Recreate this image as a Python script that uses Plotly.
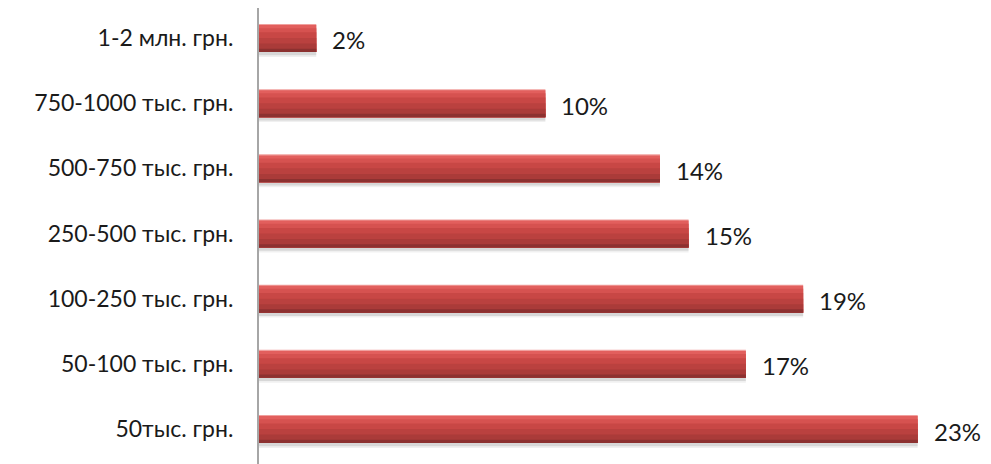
import plotly.graph_objects as go

# Data (bottom to top, as drawn by Plotly's category axis)
categories = [
    "50тыс. грн.",
    "50-100 тыс. грн.",
    "100-250 тыс. грн.",
    "250-500 тыс. грн.",
    "500-750 тыс. грн.",
    "750-1000 тыс. грн.",
    "1-2 млн. грн.",
]
values = [23, 17, 19, 15, 14, 10, 2]
value_labels = ["23%", "17%", "19%", "15%", "14%", "10%", "2%"]

FONT = "Lato, Liberation Sans, sans-serif"
BAR_W = 0.43

fig = go.Figure()

# soft shadow under each bar
for dy, col in [(0.075, "rgba(0,0,0,0.06)"), (0.05, "rgba(0,0,0,0.10)")]:
    fig.add_trace(go.Bar(
        y=categories, x=values, orientation="h",
        offset=-BAR_W / 2 - dy, width=BAR_W,
        marker=dict(color=col, line=dict(width=0)),
        hoverinfo="skip", showlegend=False,
    ))

# vertical shading of the cylinder: (fraction from top where the band starts, colour)
shading = [
    (0.00, "#f0a09e"),
    (0.04, "#e25f5d"),
    (0.15, "#d65250"),
    (0.30, "#c84745"),
    (0.50, "#ba413f"),
    (0.70, "#aa3b39"),
    (0.88, "#8c3130"),
]
for f, col in shading:
    fig.add_trace(go.Bar(
        y=categories, x=values, orientation="h",
        offset=-BAR_W / 2, width=BAR_W * (1 - f),
        marker=dict(color=col, line=dict(width=0)),
        hoverinfo="skip", showlegend=False,
    ))

for cat, v, lab in zip(categories, values, value_labels):
    fig.add_annotation(
        x=v, y=cat, text=lab, xanchor="left", yanchor="middle",
        xshift=14, yshift=-2, showarrow=False,
        font=dict(family=FONT, size=24, color="#1a1a1a"),
    )

fig.update_layout(
    barmode="overlay",
    width=983, height=456,
    margin=dict(l=251, r=16, t=0, b=0),
    paper_bgcolor="white", plot_bgcolor="white",
    font=dict(family=FONT, size=23, color="#1a1a1a"),
    xaxis=dict(range=[0, 25], visible=False, fixedrange=True),
    yaxis=dict(
        categoryorder="array", categoryarray=categories,
        range=[-0.537, 6.46],
        showline=True, linecolor="#a6a6a6", linewidth=2,
        ticks="", ticklabelstandoff=19, showgrid=False,
        tickfont=dict(family=FONT, size=23, color="#1a1a1a"),
        fixedrange=True,
    ),
)

fig.write_html("out.html")
